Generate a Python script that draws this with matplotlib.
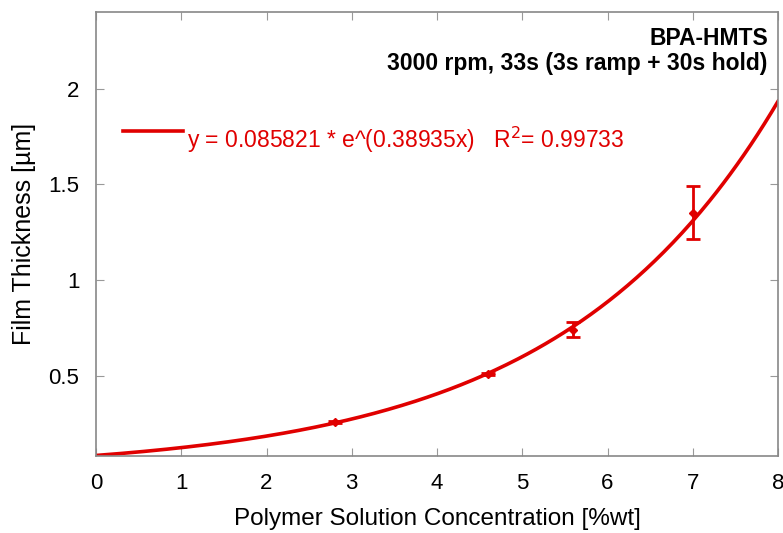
import numpy as np
import matplotlib.pyplot as plt

plt.rcParams['font.family'] = ['Liberation Sans', 'DejaVu Sans']

conc = [2.8, 4.6, 5.6, 7.0]
thick = [0.26, 0.51, 0.742, 1.353]
err = [0.005, 0.005, 0.04, 0.14]
fit_a = 0.085821
fit_b = 0.38935

red = '#e00000'
fig = plt.figure(figsize=(7.83, 5.33), dpi=100)
ax = fig.add_axes([96/783, 1-456/533, (778-96)/783, (456-12)/533])

xs = np.linspace(0, 8, 300)
ax.plot(xs, fit_a*np.exp(fit_b*xs), color=red, lw=2.6)
ax.errorbar(conc, thick, yerr=err, fmt='D', ms=4, color=red, ecolor=red,
            elinewidth=2, capsize=5, capthick=2)

ax.set_xlim(0, 8)
ax.set_ylim(0.083, 2.4)
ax.set_xticks(range(9))
ax.set_yticks([0.5, 1, 1.5, 2])
ax.set_yticklabels(['0.5', '1', '1.5', '2'])
ax.tick_params(direction='in', length=6, color='#999999', labelsize=16, pad=12,
               top=True, right=True)
for s in ax.spines.values():
    s.set_color('#888888')
    s.set_linewidth(1.2)
ax.set_xlabel('Polymer Solution Concentration [%wt]', fontsize=17.5, labelpad=10)
ax.set_ylabel('Film Thickness [µm]', fontsize=18, labelpad=9)

ax.text(0.985, 0.967, 'BPA-HMTS\n3000 rpm, 33s (3s ramp + 30s hold)', transform=ax.transAxes,
        ha='right', va='top', fontsize=16.5, fontweight='bold', linespacing=1.15)

ax.plot([0.32, 1.02], [1.78, 1.78], color=red, lw=2.6)
ax.text(1.07, 1.735, 'y = 0.085821 * e^(0.38935x)   R$^2$= 0.99733', color=red,
        fontsize=16.5, va='center')

fig.savefig('out.png', dpi=100)
